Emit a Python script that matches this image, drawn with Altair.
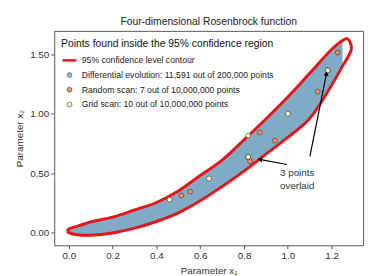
import altair as alt
import pandas as pd

# ---- 95% confidence contour ----
contour_x1 = [0.0, 0.05, 0.1, 0.2, 0.3, 0.4, 0.5, 0.6, 0.7, 0.8, 0.9, 1.0, 1.1, 1.2, 1.25]
contour_upper = [0.03, 0.06, 0.09, 0.13, 0.19, 0.253, 0.35, 0.48, 0.61, 0.78, 0.955, 1.14, 1.34, 1.54, 1.615]
contour_lower = [0.0, -0.02, -0.022, -0.003, 0.037, 0.093, 0.166, 0.267, 0.388, 0.517, 0.66, 0.80, 0.96, 1.24, 1.40]
left_tip_x1 = [-0.008]
left_tip_x2 = [0.013]
right_tip_x1 = [1.27, 1.285, 1.29]
right_tip_x2 = [1.632, 1.60, 1.54]

# ---- scan points ----
random_x1 = [0.514, 0.554, 0.828, 0.872, 0.941, 1.136, 1.228]
random_x2 = [0.311, 0.344, 0.600, 0.842, 0.774, 1.185, 1.515]
grid_x1 = [0.46, 0.64, 0.819, 0.819, 0.819, 0.819, 1.0, 1.182, 1.182, 1.182]
grid_x2 = [0.277, 0.455, 0.636, 0.636, 0.636, 0.816, 1.0, 1.364, 1.364, 1.364]

series_names = [
    "95% confidence level contour",
    "Differential evolution: 11,591 out of 200,000 points",
    "Random scan: 7 out of 10,000,000 points",
    "Grid scan: 10 out of 10,000,000 points",
]
series_fill = ["#e3161b", "#91bfdb", "#fc8d59", "#ffffbf"]
series_stroke = ["#e3161b", "#555555", "#333333", "#333333"]
series_shapes = ["stroke", "circle", "circle", "circle"]
series_sizes = [196, 25, 25, 25]
series_widths = [2.5, 0.6, 0.6, 0.6]

x_ticks = [0.0, 0.2, 0.4, 0.6, 0.8, 1.0, 1.2]
y_ticks = [0.0, 0.25, 0.5, 0.75, 1.0, 1.25, 1.5]
x_domain = [-0.067, 1.344]
y_domain = [-0.107, 1.697]

# annotation arrows (tail at text, head at points)
arrow_x = [0.996, 1.101]
arrow_y = [0.573, 0.641]
arrow_x2 = [0.876, 1.176]
arrow_y2 = [0.614, 1.331]
note_x = [1.043]
note_y = [0.497]
note_text = ["3 points\noverlaid"]

FONT = "Liberation Sans"
LEGEND_TITLE = "Points found inside the 95% confidence region"

# ---- build tables ----
band = pd.DataFrame({"x1": contour_x1, "lo": contour_lower, "hi": contour_upper})

loop_x = left_tip_x1 + contour_x1 + right_tip_x1 + contour_x1[::-1] + left_tip_x1
loop_y = left_tip_x2 + contour_upper + right_tip_x2 + contour_lower[::-1] + left_tip_x2
loop = pd.DataFrame({"x1": loop_x, "x2": loop_y, "i": list(range(len(loop_x)))})

pts = pd.DataFrame({
    "x1": random_x1 + grid_x1,
    "x2": random_x2 + grid_x2,
    "series": [series_names[2]] * len(random_x1) + [series_names[3]] * len(grid_x1),
})

arrows = pd.DataFrame({"x": arrow_x, "y": arrow_y, "x2": arrow_x2, "y2": arrow_y2})
note = pd.DataFrame({"x": note_x, "y": note_y, "t": note_text})

xs = alt.Scale(domain=x_domain, nice=False, zero=False)
ys = alt.Scale(domain=y_domain, nice=False, zero=False)

xax = alt.Axis(values=x_ticks, format=".1f", title="Parameter x₁", grid=False)
yax = alt.Axis(values=y_ticks, format=".2f", title="Parameter x₂", grid=False)

band_layer = alt.Chart(band).mark_area(color="#80aac6", opacity=1, interpolate="monotone").encode(
    x=alt.X("x1:Q", scale=xs, axis=xax),
    y=alt.Y("lo:Q", scale=ys, axis=yax),
    y2="hi:Q",
)

contour_layer = alt.Chart(loop).mark_line(color="#e3161b", strokeWidth=3, interpolate="catmull-rom").encode(
    x=alt.X("x1:Q", scale=xs),
    y=alt.Y("x2:Q", scale=ys),
    order="i:Q",
)

legend = alt.Legend(
    title=LEGEND_TITLE,
    orient="none",
    legendX=7,
    legendY=8,
    padding=0,
    titleFont=FONT,
    titleFontSize=10.5,
    titleFontWeight="normal",
    titleColor="#111",
    titlePadding=3,
    titleLimit=400,
    labelFont=FONT,
    labelFontSize=8.8,
    labelColor="#222",
    labelLimit=400,
    labelOffset=4,
    rowPadding=5,
    symbolOpacity=1,
)

def sc(rng, typ=None):
    if typ:
        return alt.Scale(domain=series_names, range=rng, type=typ)
    return alt.Scale(domain=series_names, range=rng)

points_layer = alt.Chart(pts).mark_point(filled=True, opacity=1).encode(
    x=alt.X("x1:Q", scale=xs),
    y=alt.Y("x2:Q", scale=ys),
    fill=alt.Fill("series:N", scale=sc(series_fill), legend=legend, title=LEGEND_TITLE),
    stroke=alt.Stroke("series:N", scale=sc(series_stroke), legend=legend, title=LEGEND_TITLE),
    shape=alt.Shape("series:N", scale=sc(series_shapes), legend=legend, title=LEGEND_TITLE),
    size=alt.Size("series:N", scale=sc(series_sizes, "ordinal"), legend=legend, title=LEGEND_TITLE),
    strokeWidth=alt.StrokeWidth("series:N", scale=sc(series_widths, "ordinal"), legend=legend, title=LEGEND_TITLE),
)

arrow_layer = alt.Chart(arrows).mark_rule(color="black", strokeWidth=1.2).encode(
    x=alt.X("x:Q", scale=xs), y=alt.Y("y:Q", scale=ys), x2="x2:Q", y2="y2:Q"
)
head1 = alt.Chart(arrows.iloc[[0]]).mark_point(
    shape="triangle", filled=True, color="black", size=28, angle=281, opacity=1
).encode(x=alt.X("x2:Q", scale=xs), y=alt.Y("y2:Q", scale=ys))
head2 = alt.Chart(arrows.iloc[[1]]).mark_point(
    shape="triangle", filled=True, color="black", size=28, angle=11, opacity=1
).encode(x=alt.X("x2:Q", scale=xs), y=alt.Y("y2:Q", scale=ys))

note_layer = alt.Chart(note).mark_text(
    font=FONT, fontSize=10, color="#333", align="center", baseline="middle", lineBreak="\n", lineHeight=13
).encode(x=alt.X("x:Q", scale=xs), y=alt.Y("y:Q", scale=ys), text="t:N")

chart = alt.layer(
    band_layer, contour_layer, points_layer, arrow_layer, head1, head2, note_layer
).properties(
    width=314,
    height=218,
    autosize=alt.AutoSizeParams(type="none"),
    padding={"left": 47, "top": 21, "right": 6, "bottom": 30},
    title=alt.TitleParams(
        "Four-dimensional Rosenbrock function",
        font=FONT, fontSize=10.5, fontWeight="normal", color="#222",
        anchor="middle", frame="group", offset=3,
    ),
).configure_view(
    stroke="#555", strokeWidth=1
).configure_axis(
    domain=False,
    tickColor="#555",
    tickSize=3.5,
    tickWidth=1,
    labelFont=FONT,
    labelFontSize=10,
    labelColor="#333",
    labelPadding=2,
    titleFont=FONT,
    titleFontSize=10,
    titleFontWeight="normal",
    titleColor="#333",
).configure_axisX(titlePadding=5).configure_axisY(titlePadding=5)

chart.save("out.html", embed_options={"renderer": "svg", "actions": False})
